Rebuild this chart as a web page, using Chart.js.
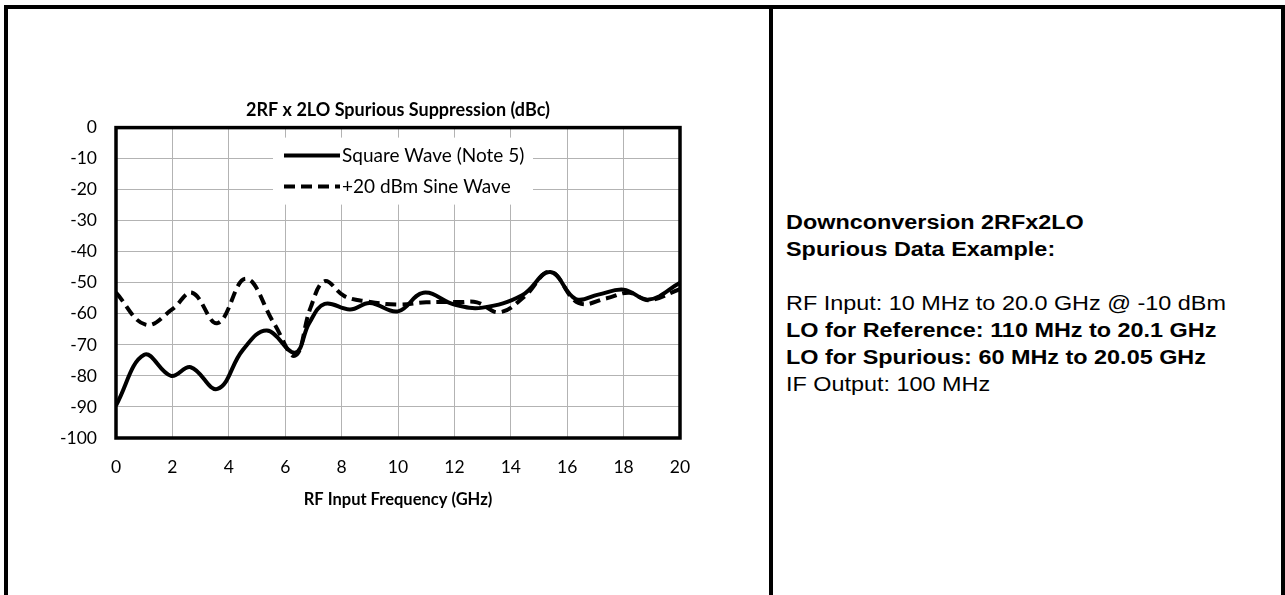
<!DOCTYPE html>
<html>
<head>
<meta charset="utf-8">
<title>2RF x 2LO Spurious Suppression</title>
<script src="https://cdn.jsdelivr.net/npm/chart.js@4.4.1/dist/chart.umd.min.js"></script>
<style>
    html, body { margin: 0; padding: 0; background: #fff; width: 1285px; height: 595px; overflow: hidden; }
    #frame { position: absolute; left: 4px; top: 5px; width: 1273px; height: 600px; border: 4px solid #000; border-bottom: none; }
    #divider { position: absolute; left: 769px; top: 5px; width: 4px; height: 600px; background: #000; }
    #chart-box { position: absolute; left: 0; top: 0; width: 769px; height: 595px; }
    #notes {
        position: absolute; left: 786px; top: 209px;
        font-family: "Liberation Sans", Arial, sans-serif; font-size: 20px; line-height: 27px; color: #000;
        transform: scaleX(1.17); transform-origin: left top; white-space: nowrap;
    }
    #notes b { font-weight: bold; }
</style>
</head>
<body>
<div id="frame"></div>
<div id="divider"></div>
<div id="chart-box"><canvas id="spur-chart"></canvas></div>
<div id="notes">
    <b>Downconversion 2RFx2LO</b><br>
    <b>Spurious Data Example:</b><br>
    <br>
    RF Input: 10 MHz to 20.0 GHz @ -10 dBm<br>
    <b>LO for Reference: 110 MHz to 20.1 GHz</b><br>
    <b>LO for Spurious: 60 MHz to 20.05 GHz</b><br>
    IF Output: 100 MHz
</div>

<script>
// データ (GHz / dBc)
const freqSquare = [0, 1.0, 1.95, 2.65, 3.6, 4.5, 5.35, 6.35, 6.85, 7.4, 8.3, 9.0, 10.0, 10.9, 12.0, 13.0, 14.4, 15.4, 16.3, 17.1, 18.0, 18.9, 20];
const dbcSquare  = [-89.5, -73.2, -80, -77.2, -84.2, -71.6, -65.4, -72.5, -63, -56.8, -58.6, -56.5, -59.2, -53.2, -57, -58, -54, -46.5, -55.2, -53.8, -52.2, -55.4, -50];

const freqSine = [0, 1.05, 2.0, 2.7, 3.6, 4.6, 5.6, 6.35, 6.9, 7.4, 8.1, 8.9, 10.0, 11.0, 12.2, 12.8, 13.6, 14.5, 15.4, 16.4, 17.4, 18.2, 18.9, 20];
const dbcSine  = [-53.2, -63.5, -58.5, -53.2, -63, -48.7, -63, -73.5, -58, -49.5, -54.3, -56, -57, -56.3, -56.2, -56.3, -59.5, -54.3, -46.5, -56.5, -55, -53.2, -55.6, -52];

const seriesLabels = ['Square Wave (Note 5)', '+20 dBm Sine Wave'];
const chartTitle = '2RF x 2LO Spurious Suppression (dBc)';
const xAxisTitle = 'RF Input Frequency (GHz)';

const toPoints = (xs, ys) => xs.map((x, i) => ({ x: x, y: ys[i] }));

// 凡例をプロット内に描く + 枠線
const legendInPlot = {
    id: 'legendInPlot',
    afterDatasetsDraw(chart) {
        const { ctx, chartArea: a } = chart;
        const bx = a.left + 157, by = a.top + 10;
        ctx.save();
        ctx.fillStyle = '#fff';
        ctx.fillRect(bx, by, 260, 67);
        ctx.font = '19px Lato';
        ctx.textBaseline = 'middle';
        chart.data.datasets.forEach((ds, i) => {
            const y = by + 18 + i * 31;
            ctx.beginPath();
            ctx.setLineDash(ds.borderDash || []);
            ctx.lineWidth = ds.borderWidth;
            ctx.strokeStyle = ds.borderColor;
            ctx.moveTo(bx + 11, y);
            ctx.lineTo(bx + 67, y);
            ctx.stroke();
            ctx.setLineDash([]);
            ctx.fillStyle = '#000';
            ctx.fillText(ds.label, bx + 69, y);
        });
        ctx.lineWidth = 3.5;
        ctx.strokeStyle = '#000';
        ctx.strokeRect(a.left, a.top, a.right - a.left, a.bottom - a.top);
        ctx.restore();
    }
};

Chart.defaults.font.family = 'Lato';
Chart.defaults.color = '#000';

new Chart(document.getElementById('spur-chart'), {
    type: 'line',
    data: {
        datasets: [{
            label: seriesLabels[0],
            data: toPoints(freqSquare, dbcSquare),
            borderColor: '#000',
            borderWidth: 4,
            tension: 0.4,
            pointRadius: 0
        }, {
            label: seriesLabels[1],
            data: toPoints(freqSine, dbcSine),
            borderColor: '#000',
            borderWidth: 4,
            borderDash: [11, 6],
            tension: 0.4,
            pointRadius: 0
        }]
    },
    options: {
        responsive: true,
        maintainAspectRatio: false,
        animation: false,
        layout: { padding: { left: 0, right: 89, top: 0, bottom: 0 } },
        plugins: {
            legend: { display: false },
            tooltip: { enabled: false },
            title: {
                display: true,
                fullSize: false,
                text: chartTitle,
                color: '#000',
                font: { size: 18, weight: 'bold' },
                padding: { top: 99, bottom: 7 }
            }
        },
        scales: {
            x: {
                type: 'linear',
                min: 0,
                max: 20,
                ticks: { stepSize: 2, padding: 19, color: '#000', font: { size: 17.5 } },
                grid: { color: '#b3b3b3', drawTicks: false },
                border: { display: false },
                title: {
                    display: true,
                    text: xAxisTitle,
                    color: '#000',
                    font: { size: 16.5, weight: 'bold' },
                    padding: { top: 0, bottom: 85 }
                },
                afterFit: (s) => { s.height = 157; }
            },
            y: {
                min: -100,
                max: 0,
                ticks: { stepSize: 10, padding: 19, color: '#000', font: { size: 17.5 } },
                grid: { color: '#b3b3b3', drawTicks: false },
                border: { display: false },
                afterFit: (s) => { s.width = 116; }
            }
        }
    },
    plugins: [legendInPlot]
});
</script>
</body>
</html>
